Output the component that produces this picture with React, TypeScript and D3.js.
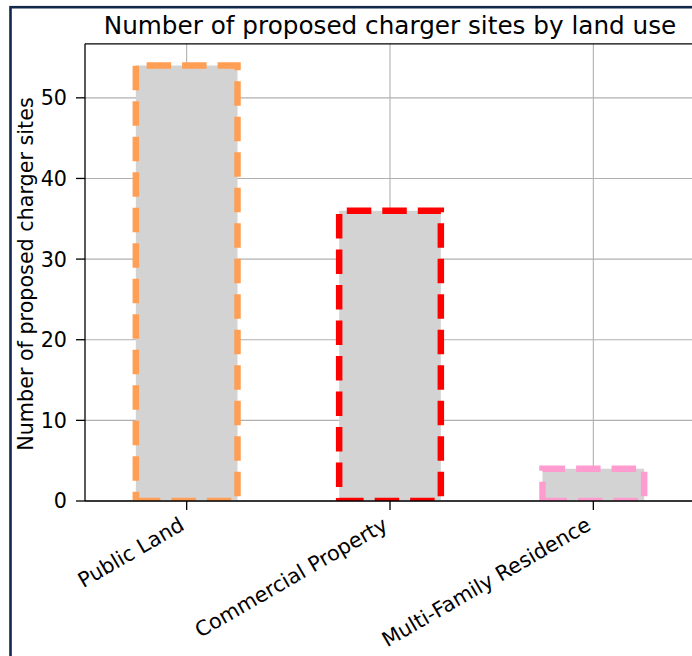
import React from "react";
import * as d3 from "d3";

const categories = ["Public Land", "Commercial Property", "Multi-Family Residence"];
const values = [54, 36, 4];
const edgeColors = ["#ff9f55", "#ff0000", "#ff9ccf"];
const yTicks = [0, 10, 20, 30, 40, 50];
const title = "Number of proposed charger sites by land use";
const yLabel = "Number of proposed charger sites";

const W = 692;
const H = 656;
const left = 85;
const right = 695;
const top = 43.8;
const bottom = 501;
const FONT = "DejaVu Sans, sans-serif";

export default function App() {
  const x = d3.scaleBand<string>().domain(categories).range([left, right]).paddingInner(0.5).paddingOuter(0.25);
  const y = d3.scaleLinear().domain([0, 56.7]).range([bottom, top]);

  const barPath = (i: number) => {
    const x0 = x(categories[i])!;
    const x1 = x0 + x.bandwidth();
    const y0 = y(0);
    const y1 = y(values[i]);
    const p = d3.path();
    p.moveTo(x0, y0);
    p.lineTo(x1, y0);
    p.lineTo(x1, y1);
    p.lineTo(x0, y1);
    p.closePath();
    return p.toString();
  };

  return (
    <svg width={W} height={H} style={{ position: "absolute", left: 0, top: 0, background: "#fff" }} fontFamily={FONT}>
      <defs>
        <clipPath id="axclip">
          <rect x={left} y={top} width={right - left} height={bottom - top} />
        </clipPath>
      </defs>
      <rect x={0} y={0} width={W} height={H} fill="#fff" />
      {/* grid */}
      <g stroke="#b0b0b0" strokeWidth={1.1}>
        {yTicks.map((t) => (
          <line key={"gy" + t} x1={left} x2={right} y1={y(t)} y2={y(t)} />
        ))}
        {categories.map((c) => (
          <line key={"gx" + c} x1={x(c)! + x.bandwidth() / 2} x2={x(c)! + x.bandwidth() / 2} y1={top} y2={bottom} />
        ))}
      </g>
      {/* bars */}
      <g clipPath="url(#axclip)">
        {categories.map((c, i) => (
          <path
            key={c}
            d={barPath(i)}
            fill="#d3d3d3"
            stroke={edgeColors[i]}
            strokeWidth={6.5}
            strokeDasharray="24.5 11"
            strokeLinecap="butt"
            strokeLinejoin="miter"
          />
        ))}
      </g>
      {/* spines */}
      <g stroke="#000" strokeWidth={1.3} fill="none">
        <line x1={left} x2={left} y1={top} y2={bottom} />
        <line x1={left} x2={right} y1={bottom} y2={bottom} />
        <line x1={left} x2={right} y1={top} y2={top} />
        <line x1={right} x2={right} y1={top} y2={bottom} />
      </g>
      {/* y ticks */}
      {yTicks.map((t) => (
        <g key={"yt" + t}>
          <line x1={left - 9} x2={left} y1={y(t)} y2={y(t)} stroke="#000" strokeWidth={1.3} />
          <text x={left - 18} y={y(t)} dy="0.36em" textAnchor="end" fontSize={20.7} fill="#000">
            {t}
          </text>
        </g>
      ))}
      {/* x ticks */}
      {categories.map((c) => {
        const cx = x(c)! + x.bandwidth() / 2;
        return (
          <g key={"xt" + c}>
            <line x1={cx} x2={cx} y1={bottom} y2={bottom + 9} stroke="#000" strokeWidth={1.3} />
            <text
              transform={`translate(${cx - 1},${bottom + 28}) rotate(-30)`}
              textAnchor="end"
              fontSize={20.7}
              fill="#000"
            >
              {c}
            </text>
          </g>
        );
      })}
      {/* y label */}
      <text
        transform={`translate(32.5,274) rotate(-90)`}
        textAnchor="middle"
        fontSize={20.7}
        fill="#000"
      >
        {yLabel}
      </text>
      {/* title */}
      <text x={(left + right) / 2} y={34} textAnchor="middle" fontSize={24.7} fill="#000">
        {title}
      </text>
      {/* outer frame */}
      <rect x={10.5} y={7.2} width={W + 20} height={H + 20} fill="none" stroke="#13294b" strokeWidth={2.6} />
    </svg>
  );
}
